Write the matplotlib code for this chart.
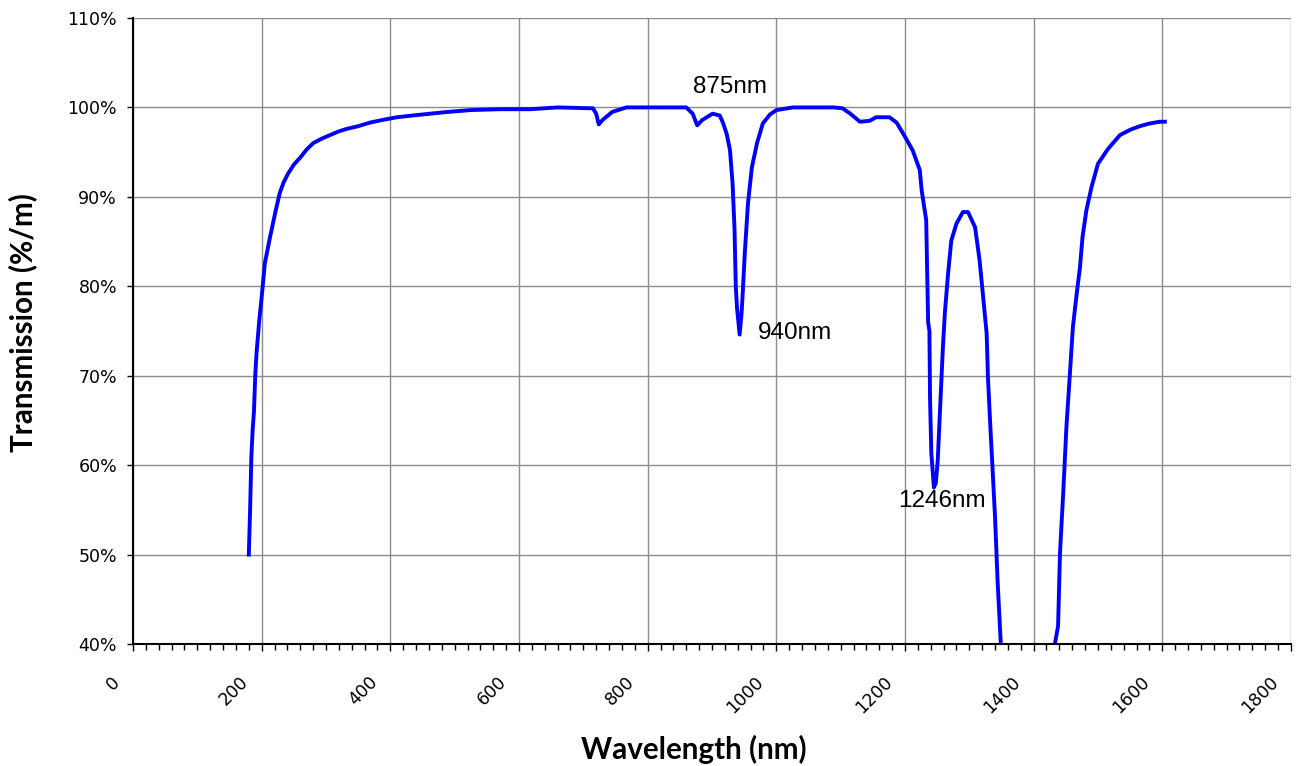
import numpy as np
import matplotlib
matplotlib.use('agg')
import matplotlib.pyplot as plt
from matplotlib.ticker import MultipleLocator, FuncFormatter
from matplotlib.transforms import ScaledTranslation

# measured transmission curve (nan marks where it leaves the plot below 40%)
wavelength = [180, 182, 184, 186, 188, 190, 192, 196, 200, 205, 213, 221, 228, 234, 241, 250,
              260, 270, 280, 293, 306, 319, 332, 350, 368, 388, 410, 435, 462, 490, 524, 570,
              617, 660, 715, 720, 724, 730, 745, 767,
              860, 870, 877, 885, 901, 912, 917, 923, 928, 932, 935, 937, 939, 943, 946,
              948, 951, 956, 962, 970, 979, 990, 1000, 1026, 1090, 1103, 1115, 1130, 1145,
              1155, 1176, 1187, 1197, 1212, 1223, 1226, 1233, 1236, 1238, 1239, 1241, 1245,
              1248, 1251, 1254, 1259, 1262, 1267, 1272, 1280, 1290, 1298, 1309, 1316, 1321,
              1327, 1329, 1333, 1336, 1340, 1344, 1349, 1390,
              1433, 1438, 1441, 1446, 1451, 1456, 1461, 1467, 1472, 1476, 1482, 1490, 1500,
              1515, 1534, 1550, 1565, 1580, 1596, 1604]
transmission = [50.0, 55.0, 61.0, 64.0, 66.0, 70.0, 72.5, 76.0, 78.8, 82.6, 85.5, 88.2, 90.4,
                91.6, 92.6, 93.6, 94.4, 95.3, 96.0, 96.5, 96.9, 97.3, 97.6, 97.9, 98.3, 98.6,
                98.9, 99.1, 99.3, 99.5, 99.7, 99.8, 99.8, 100.0, 99.9, 99.3,
                98.1, 98.6, 99.5, 100.0, 100.0, 99.3, 98.0, 98.6, 99.3, 99.1, 98.3, 97.0, 95.2,
                91.5, 86.5, 80.0, 77.5, 74.6, 77.0, 79.5, 83.7, 89.3, 93.3, 96.0, 98.2, 99.2,
                99.7, 100.0, 100.0, 99.9, 99.3, 98.4, 98.5, 98.9, 98.9, 98.3, 97.1, 95.2, 93.0,
                90.7, 87.4, 76.0, 75.0, 67.3, 61.3, 57.5, 58.0, 60.6, 65.4, 73.2, 77.0, 81.4,
                85.1, 87.0, 88.3, 88.3, 86.6, 82.9, 79.2, 74.7, 69.8, 63.9, 59.8, 54.2, 47.0,
                40.0, np.nan,
                40.0, 42.0, 50.2, 56.9, 64.3, 69.8, 75.4, 79.2, 82.1, 85.5, 88.5, 91.1, 93.7,
                95.3, 96.9, 97.5, 97.9, 98.2, 98.4, 98.4]

peak_labels = ['875nm', '940nm', '1246nm']

fig = plt.figure(figsize=(12.99, 7.66), dpi=100)
ax = fig.add_axes([0.1024, 0.1593, 0.8914, 0.8172])

ax.plot(wavelength, transmission, color='#0000FF', linewidth=2.8)

ax.set_xlim(0, 1800)
ax.set_ylim(40, 110)
ax.xaxis.set_major_locator(MultipleLocator(200))
ax.xaxis.set_minor_locator(MultipleLocator(20))
ax.yaxis.set_major_locator(MultipleLocator(10))
ax.yaxis.set_major_formatter(FuncFormatter(lambda v, p: f'{v:.0f}%'))
ax.grid(True, which='major', color='#8c8c8c', linewidth=1.0)
ax.set_axisbelow(True)

for s in ['top', 'right']:
    ax.spines[s].set_visible(False)
for s in ['left', 'bottom']:
    ax.spines[s].set_linewidth(1.5)

ax.tick_params(axis='both', which='both', direction='out', width=1.0, colors='black')
ax.tick_params(axis='x', which='major', length=5, pad=16, labelsize=12.5)
ax.tick_params(axis='x', which='minor', length=4.5)
ax.tick_params(axis='y', which='major', length=4, pad=7.5, labelsize=12.5)

shift = ScaledTranslation(-0.22, 0, fig.dpi_scale_trans)
for lbl in ax.get_xticklabels():
    lbl.set_rotation(45)
    lbl.set_ha('right')
    lbl.set_va('top')
    lbl.set_rotation_mode('anchor')
    lbl.set_transform(lbl.get_transform() + shift)

ax.set_xlabel('Wavelength (nm)', family='Lato', fontweight='bold', fontsize=21.3, va='center')
ax.xaxis.set_label_coords(0.484, -0.169)
ax.set_ylabel('Transmission (%/m)', family='Lato', fontweight='bold', fontsize=21.3, va='center')
ax.yaxis.set_label_coords(-0.095, 0.514)

ax.text(928, 101.1, peak_labels[0], family='Liberation Sans', fontsize=17.5,
        ha='center', va='bottom')
ax.text(971, 73.6, peak_labels[1], family='Liberation Sans', fontsize=17.5,
        ha='left', va='bottom')
ax.text(1257, 54.8, peak_labels[2], family='Liberation Sans', fontsize=17.5,
        ha='center', va='bottom')

plt.savefig('out.png', dpi=100)
